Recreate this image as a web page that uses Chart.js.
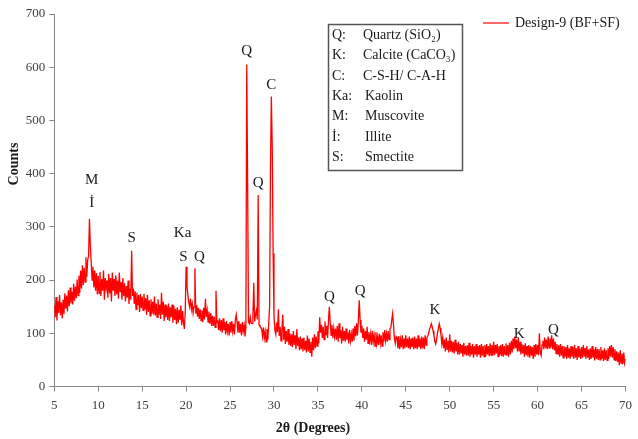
<!DOCTYPE html>
<html>
<head>
<meta charset="utf-8">
<script src="https://cdn.jsdelivr.net/npm/chart.js@4/dist/chart.umd.min.js"></script>
<style>
html,body{margin:0;padding:0;background:#fff;}
#wrap{width:638px;height:439px;position:relative;}
</style>
</head>
<body>
<div id="wrap"><canvas id="c" width="638" height="439"></canvas></div>
<script>
// 2θ scan: start angle and step (degrees)
const scanStart = 5;
const scanStep = 0.1;
// Counts, one row per degree (x.0 ... x.9)
const counts = [
/* 5 */ 152,130,168,124,160,138,172,134,158,128,
/* 6 */ 163,136,175,146,171,141,181,151,186,156,
/* 7 */ 178,154,193,161,188,166,201,171,208,176,
/* 8 */ 218,184,228,191,223,196,243,206,238,245,
/* 9 */ 315,265,232,200,225,186,218,180,213,173,
/*10 */ 208,175,215,170,202,180,218,163,204,185,
/*11 */ 199,167,212,175,204,160,214,180,202,170,
/*12 */ 209,173,199,165,214,177,196,163,204,170,
/*13 */ 194,160,189,167,199,155,184,163,255,170,
/*14 */ 184,155,179,145,176,153,172,140,174,147,
/*15 */ 169,143,174,145,166,135,172,140,162,133,
/*16 */ 164,137,159,135,169,133,156,130,164,135,
/*17 */ 154,127,176,135,159,123,154,130,152,125,
/*18 */ 156,123,149,130,154,120,152,125,146,117,
/*19 */ 149,120,144,125,152,115,142,120,108,140,
/*20 */ 225,188,172,158,150,165,145,155,138,150,
/*21 */ 222,137,153,131,148,127,145,124,143,121,
/*22 */ 148,126,165,131,143,121,141,118,138,114,
/*23 */ 133,114,131,111,180,121,123,106,128,104,
/*24 */ 125,101,128,106,121,98,123,104,118,96,
/*25 */ 121,101,123,104,118,98,125,135,121,101,
/*26 */ 123,101,118,96,121,104,115,94,110,605,
/*27 */ 380,121,118,130,119,118,132,195,122,135,
/*28 */ 143,126,360,116,113,111,108,94,111,91,
/*29 */ 103,84,108,88,118,150,410,545,450,250,
/*30 */ 133,106,98,120,102,145,95,112,86,105,
/*31 */ 135,88,112,80,104,84,108,78,100,76,
/*32 */ 98,74,104,78,96,70,108,76,92,68,
/*33 */ 94,70,90,66,92,68,86,64,96,66,
/*34 */ 90,64,84,56,92,68,98,72,94,76,
/*35 */ 104,81,130,101,116,91,112,88,122,96,
/*36 */ 114,91,124,150,119,96,116,91,109,94,
/*37 */ 109,88,114,84,119,91,106,81,112,86,
/*38 */ 104,84,109,88,102,81,106,86,99,84,
/*39 */ 109,86,114,94,119,96,124,162,125,101,
/*40 */ 114,91,109,84,104,88,112,81,102,86,
/*41 */ 99,78,104,84,96,76,102,81,94,78,
/*42 */ 99,81,96,76,102,84,106,86,99,84,
/*43 */ 104,88,109,110,125,137,115,91,81,94,
/*44 */ 92,72,95,70,88,74,96,70,90,72,
/*45 */ 96,74,90,72,94,70,90,74,92,70,
/*46 */ 94,72,90,70,96,74,90,70,94,72,
/*47 */ 92,70,96,78,92,95,100,108,112,118,
/*48 */ 112,105,95,85,80,88,100,108,118,110,
/*49 */ 98,80,92,72,88,66,92,70,86,64,
/*50 */ 98,66,86,64,84,62,88,66,82,60,
/*51 */ 84,60,80,62,78,56,82,60,76,58,
/*52 */ 78,58,82,56,76,60,80,54,76,60,
/*53 */ 80,56,76,60,78,54,80,58,76,56,
/*54 */ 78,56,80,60,76,57,81,59,78,58,
/*55 */ 84,59,78,62,80,56,76,59,78,57,
/*56 */ 80,56,76,60,81,58,78,56,82,60,
/*57 */ 86,64,90,70,94,72,88,66,92,66,
/*58 */ 84,60,80,62,78,56,81,59,76,56,
/*59 */ 78,54,76,58,74,52,78,56,80,60,
/*60 */ 78,59,100,64,58,78,86,70,92,72,
/*61 */ 88,70,94,72,90,74,96,70,90,68,
/*62 */ 84,62,80,60,78,56,80,58,76,54,
/*63 */ 76,56,74,52,78,54,72,52,76,56,
/*64 */ 74,52,78,54,72,50,76,54,71,52,
/*65 */ 74,54,78,56,72,52,76,54,70,50,
/*66 */ 72,52,76,54,70,49,74,52,71,50,
/*67 */ 70,50,74,52,68,48,72,50,68,49,
/*68 */ 72,52,76,56,78,54,74,50,70,48,
/*69 */ 66,46,64,40,68,44,62,42,64,44,
/*70 */ 52
];
const seriesName = 'Design-9 (BF+SF)';
const xTicks = [5,10,15,20,25,30,35,40,45,50,55,60,65,70];
const yTicks = [0,100,200,300,400,500,600,700];
// Phase labels on the peaks: text, 2θ, counts
const peakLabels = ['M','İ','S','Ka','S','Q','Q','Q','C','Q','Q','K','K','Q'];
const peakX =      [9.25,9.25,13.8,19.6,19.7,21.5,26.9,28.2,29.7,36.3,39.8,48.3,57.9,61.8];
const peakY =      [388,344,279,288,243,243,631,382,566,168,179,143,99,106];
// Phase key
const keyCodes = ['Q:','K:','C:','Ka:','M:','İ:','S:'];
const keyNames = ['Quartz (SiO₂)','Calcite (CaCO₃)','C-S-H/ C-A-H','Kaolin','Muscovite','Illite','Smectite'];

const points = counts.map((c,i)=>({x: Math.round((scanStart + i*scanStep)*10)/10, y: c}));
const SERIF = '"Liberation Serif", "Times New Roman", serif';

const overlay = {
  id: 'overlay',
  afterDraw(chart){
    const ctx = chart.ctx, xs = chart.scales.x, ys = chart.scales.y;
    ctx.save();
    ctx.fillStyle = '#1a1a1a';
    ctx.font = '15px ' + SERIF;
    ctx.textAlign = 'center'; ctx.textBaseline = 'middle';
    peakLabels.forEach((t,i)=>{
      ctx.fillText(t, xs.getPixelForValue(peakX[i]), ys.getPixelForValue(peakY[i]));
    });
    ctx.strokeStyle = '#ff0000'; ctx.lineWidth = 1.2;
    ctx.beginPath(); ctx.moveTo(483,23); ctx.lineTo(509,23); ctx.stroke();
    ctx.fillStyle = '#1a1a1a';
    ctx.textAlign = 'left';
    ctx.font = '14px ' + SERIF;
    ctx.fillText(seriesName, 515, 23);
    ctx.strokeStyle = '#555'; ctx.lineWidth = 1.5;
    ctx.strokeRect(328.5, 24.5, 134, 146);
    ctx.font = '14px ' + SERIF;
    keyCodes.forEach((k,i)=>{
      const yy = 35.5 + i*20.3;
      ctx.fillText(k, 332, yy);
      ctx.fillText(keyNames[i], i<3 ? 363 : 365, yy);
    });
    ctx.font = 'bold 14px ' + SERIF;
    ctx.textAlign = 'center';
    ctx.fillText('2θ (Degrees)', 313, 428);
    ctx.translate(14, 164);
    ctx.rotate(-Math.PI/2);
    ctx.fillText('Counts', 0, 0);
    ctx.restore();
  }
};

new Chart(document.getElementById('c'), {
  type: 'line',
  data: { datasets: [{
    label: seriesName, data: points,
    borderColor: '#ff0000', borderWidth: 1.3, pointRadius: 0, tension: 0, fill: false
  }]},
  options: {
    responsive: false, animation: false, events: [],
    layout: { padding: { top: 14, right: 10, left: 0, bottom: 0 } },
    plugins: { legend: { display: false }, tooltip: { enabled: false } },
    scales: {
      x: {
        type: 'linear', min: 5, max: 70,
        afterBuildTicks(s){ s.ticks = xTicks.map(v=>({value:v})); },
        afterFit(s){ s.height = 52.5; },
        grid: { drawOnChartArea: false, drawTicks: true, tickLength: 5, color: '#888' },
        border: { display: true, color: '#888', width: 1 },
        ticks: { font: { family: SERIF, size: 13 }, color: '#404040', padding: 6, maxRotation: 0 }
      },
      y: {
        min: 0, max: 700,
        afterBuildTicks(s){ s.ticks = yTicks.map(v=>({value:v})); },
        afterFit(s){ s.width = 54.3; },
        grid: { drawOnChartArea: false, drawTicks: true, tickLength: 5, color: '#888' },
        border: { display: true, color: '#888', width: 1 },
        ticks: { font: { family: SERIF, size: 13 }, color: '#404040', padding: 4 }
      }
    }
  },
  plugins: [overlay]
});
</script>
</body>
</html>
